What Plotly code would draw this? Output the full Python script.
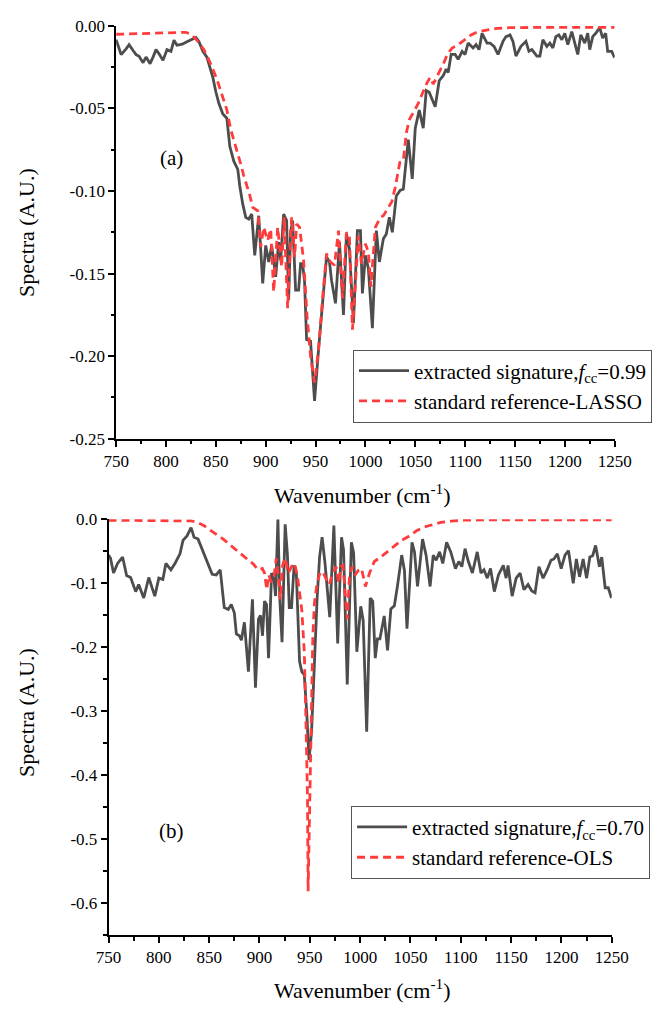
import plotly.graph_objects as go

# ---------------- Panel (a) ----------------
a_sig_x = [750, 755, 760, 763, 767, 770, 773, 777, 780, 784, 787, 790, 793, 797, 801, 805, 808, 811, 814, 817,
           820, 822, 826, 830, 833, 837, 841, 844, 847, 850, 853, 857, 861, 864, 868, 872, 874, 877, 880, 883,
           886, 889, 893, 897, 900, 903, 906, 910, 913, 915, 918, 921, 923, 925, 927, 930, 933, 935, 937, 939,
           941, 945, 949, 953, 957, 961, 964, 966, 970, 974, 978, 981, 984, 988, 992, 995, 997, 1000, 1003, 1007,
           1011, 1014, 1018, 1021, 1024, 1027, 1031, 1035, 1038, 1041, 1043, 1047, 1050, 1054, 1058, 1061, 1064,
           1070, 1074, 1078, 1081, 1083, 1086, 1090, 1093, 1097, 1100, 1103, 1108, 1111, 1114, 1117, 1122, 1125,
           1129, 1133, 1138, 1141, 1145, 1148, 1151, 1156, 1161, 1164, 1167, 1172, 1175, 1178, 1182, 1185, 1188,
           1191, 1194, 1197, 1200, 1203, 1207, 1210, 1213, 1216, 1220, 1223, 1225, 1228, 1231, 1235, 1238, 1241,
           1243, 1247, 1250]
a_sig_y = [-0.0085, -0.0175, -0.014, -0.0115, -0.015, -0.0175, -0.0185, -0.0224, -0.019, -0.023, -0.019, -0.0145,
           -0.017, -0.021, -0.0145, -0.0155, -0.0088, -0.0118, -0.0115, -0.011, -0.010, -0.0095, -0.0085, -0.0072,
           -0.0095, -0.0155, -0.019, -0.025, -0.0313, -0.040, -0.047, -0.0535, -0.056, -0.073, -0.082, -0.087,
           -0.097, -0.108, -0.116, -0.117, -0.114, -0.139, -0.115, -0.156, -0.133, -0.143, -0.133, -0.152, -0.131,
           -0.142, -0.114, -0.118, -0.166, -0.125, -0.118, -0.160, -0.160, -0.144, -0.144, -0.155, -0.190, -0.191,
           -0.227, -0.196, -0.170, -0.140, -0.143, -0.154, -0.168, -0.131, -0.175, -0.126, -0.135, -0.180, -0.124,
           -0.124, -0.162, -0.139, -0.147, -0.183, -0.124, -0.143, -0.129, -0.126, -0.116, -0.125, -0.103, -0.0996,
           -0.099, -0.0788, -0.0689, -0.0927, -0.062, -0.0511, -0.062, -0.0392, -0.0402, -0.0491, -0.0333, -0.0303,
           -0.0263, -0.0283, -0.0174, -0.0174, -0.0204, -0.0155, -0.0174, -0.0105, -0.0135, -0.0115, -0.0145,
           -0.0046, -0.0105, -0.0105, -0.0125, -0.0174, -0.0095, -0.0066, -0.0056, -0.0095, -0.0184, -0.0125,
           -0.0095, -0.0155, -0.0145, -0.0184, -0.0184, -0.0085, -0.0125, -0.0105, -0.0135, -0.0066, -0.0056,
           -0.0085, -0.0046, -0.0115, -0.0036, -0.0105, -0.0174, -0.0056, -0.0105, -0.0046, -0.0145, -0.0066,
           -0.0046, -0.0012, -0.0075, -0.0046, -0.0155, -0.0155, -0.0194]

a_ref_x = [750, 760, 770, 780, 790, 800, 810, 820, 826, 832, 838, 844, 851, 856, 861, 865, 870, 875, 878, 881,
           884, 887, 890, 892, 895, 898, 902, 905, 908, 912, 916, 918.5, 922, 926, 929, 931, 934, 938, 941.5, 945,
           949, 953, 957.5, 961, 965, 969, 973, 977, 981, 984, 987, 993, 996, 1000, 1003, 1005.5, 1010, 1015, 1018,
           1023, 1026.5, 1030, 1034.5, 1038, 1041, 1044, 1049, 1053, 1057, 1062, 1065, 1068, 1073, 1078, 1082,
           1087, 1093, 1100, 1106, 1113, 1122, 1132, 1145, 1160, 1180, 1200, 1220, 1250]
a_ref_y = [-0.0052, -0.0050, -0.0048, -0.0045, -0.0042, -0.0040, -0.0038, -0.0040, -0.0056, -0.0095, -0.0145,
           -0.022, -0.0323, -0.0422, -0.0508, -0.063, -0.0728, -0.0838, -0.0907, -0.0966, -0.1025, -0.110, -0.111,
           -0.112, -0.134, -0.122, -0.130, -0.123, -0.161, -0.122, -0.146, -0.116, -0.171, -0.116, -0.140, -0.120,
           -0.122, -0.142, -0.176, -0.200, -0.216, -0.196, -0.162, -0.138, -0.143, -0.145, -0.124, -0.165, -0.125,
           -0.128, -0.184, -0.127, -0.144, -0.132, -0.137, -0.158, -0.122, -0.116, -0.115, -0.110, -0.1065, -0.0976,
           -0.0828, -0.082, -0.065, -0.057, -0.0511, -0.0471, -0.0412, -0.0343, -0.0313, -0.0353, -0.0293, -0.0234,
           -0.0175, -0.0135, -0.0115, -0.0085, -0.0056, -0.0036, -0.0026, -0.0016, -0.0012, -0.0010, -0.0010,
           -0.0010, -0.0010, -0.0010]

# ---------------- Panel (b) ----------------
b_sig_x = [750, 752, 755, 759, 764, 768, 772, 777, 780, 785, 790, 796, 800, 804, 807, 812, 816, 821, 824, 828,
           832, 835, 839, 843, 848, 853, 857, 861, 865, 869, 872, 875, 877, 880, 882, 885, 889, 893, 896, 899,
           901, 903, 905, 907, 909, 912, 914.5, 916, 918.3, 920.2, 922.4, 925.5, 927.7, 929.6, 931.8, 934.4, 936.6,
           939.8, 942, 944.5, 947, 949.2, 951.8, 954, 957.2, 959.7, 962.2, 965.1, 967.3, 969.8, 973.9, 977.7,
           981.5, 983.5, 987.2, 991.3, 993.5, 996.7, 1000.6, 1003, 1006.5, 1010, 1012.5, 1015, 1017.2, 1019.6,
           1023.9, 1027.2, 1030.5, 1034, 1037, 1041.3, 1044, 1046.5, 1051.5, 1054, 1057, 1062, 1065.5, 1069.5, 1072.6,
           1075.5, 1078.9, 1082.1, 1085.9, 1090, 1094.7, 1098, 1101, 1104.2, 1107.5, 1111.5, 1116.3, 1120, 1123,
           1126.3, 1129.5, 1133.3, 1137.4, 1142.2, 1145, 1146.9, 1151, 1155, 1158.9, 1162.7, 1166.8, 1170.5, 1173.8,
           1177.6, 1181.7, 1185.5, 1189.6, 1192.5, 1195.9, 1199.7, 1203.5, 1207, 1211.7, 1214.8, 1218, 1221.5, 1225,
           1228.2, 1231, 1233.9, 1237.7, 1240, 1243.4, 1246.5, 1249.7]
b_sig_y = [-0.056, -0.061, -0.084, -0.069, -0.059, -0.088, -0.091, -0.113, -0.102, -0.123, -0.091, -0.120, -0.092,
           -0.094, -0.069, -0.079, -0.069, -0.054, -0.033, -0.026, -0.013, -0.028, -0.031, -0.046, -0.066, -0.086,
           -0.087, -0.079, -0.138, -0.141, -0.133, -0.146, -0.179, -0.182, -0.189, -0.161, -0.238, -0.125, -0.263,
           -0.156, -0.150, -0.182, -0.128, -0.133, -0.217, -0.084, -0.095, -0.120, 0.0, -0.125, -0.192, -0.008, -0.054,
           -0.138, -0.138, -0.072, -0.084, -0.222, -0.238, -0.243, -0.304, -0.376, -0.330, -0.233, -0.125, -0.059,
           -0.028, -0.069, -0.115, -0.153, -0.010, -0.194, -0.028, -0.048, -0.258, -0.036, -0.052, -0.207, -0.136,
           -0.158, -0.332, -0.123, -0.128, -0.217, -0.187, -0.187, -0.151, -0.205, -0.140, -0.135, -0.105, -0.056,
           -0.080, -0.171, -0.036, -0.051, -0.105, -0.031, -0.056, -0.105, -0.056, -0.064, -0.051, -0.069, -0.036,
           -0.051, -0.077, -0.066, -0.074, -0.046, -0.066, -0.084, -0.051, -0.084, -0.079, -0.092, -0.077, -0.113,
           -0.087, -0.072, -0.092, -0.072, -0.120, -0.092, -0.084, -0.110, -0.102, -0.112, -0.115, -0.074, -0.092,
           -0.080, -0.064, -0.062, -0.054, -0.077, -0.056, -0.049, -0.100, -0.062, -0.090, -0.062, -0.092, -0.059,
           -0.057, -0.041, -0.074, -0.059, -0.107, -0.107, -0.123]

b_ref_x = [750, 760, 770, 780, 790, 800, 810, 820, 826, 832, 838.5, 845, 851, 857.5, 864, 870, 876.5, 882.8,
           887.6, 893.9, 898.6, 902.8, 905, 907.2, 909.1, 911.3, 914, 916.7, 919.2, 920.8, 923, 925.5, 928.7, 931.8,
           935, 938.2, 942, 944.5, 946.1, 947.7, 948.3, 949.9, 951.5, 953, 954.6, 957.2, 960.3, 963.5, 966.6,
           969.2, 973, 976.1, 978.7, 980.9, 983, 985.6, 987.2, 989.4, 991.9, 995.1, 998, 1001.4, 1005.2, 1009.3,
           1014.1, 1020.4, 1026.7, 1033, 1041, 1048, 1056, 1064, 1072, 1080, 1090, 1100, 1120, 1150, 1200, 1250]
b_ref_y = [-0.0015, -0.0015, -0.0015, -0.0015, -0.0015, -0.0015, -0.0015, -0.0015, -0.002, -0.0026, -0.005,
           -0.010, -0.017, -0.024, -0.031, -0.039, -0.047, -0.055, -0.062, -0.070, -0.079, -0.077, -0.084, -0.110,
           -0.087, -0.097, -0.095, -0.061, -0.100, -0.125, -0.072, -0.061, -0.084, -0.074, -0.069, -0.095, -0.141,
           -0.207, -0.309, -0.437, -0.581, -0.437, -0.284, -0.182, -0.130, -0.100, -0.082, -0.084, -0.095, -0.102,
           -0.084, -0.074, -0.100, -0.074, -0.072, -0.130, -0.156, -0.090, -0.074, -0.087, -0.080, -0.077, -0.105,
           -0.084, -0.066, -0.059, -0.051, -0.044, -0.033, -0.027, -0.018, -0.012, -0.008, -0.005, -0.003, -0.0015,
           -0.001, -0.001, -0.001, -0.001]

x_ticks = [750, 800, 850, 900, 950, 1000, 1050, 1100, 1150, 1200, 1250]
x_tick_text = ["750", "800", "850", "900", "950", "1000", "1050", "1100", "1150", "1200", "1250"]
a_y_ticks = [0.0, -0.05, -0.10, -0.15, -0.20, -0.25]
a_y_text = ["0.00", "-0.05", "-0.10", "-0.15", "-0.20", "-0.25"]
b_y_ticks = [0.0, -0.1, -0.2, -0.3, -0.4, -0.5, -0.6]
b_y_text = ["0.0", "-0.1", "-0.2", "-0.3", "-0.4", "-0.5", "-0.6"]

names_a = ["extracted signature,<i>f</i><sub>cc</sub>=0.99", "standard reference-LASSO"]
names_b = ["extracted signature,<i>f</i><sub>cc</sub>=0.70", "standard reference-OLS"]

FONT = "Liberation Serif, Times New Roman, serif"
GREY = "#4d4d4d"
RED = "#ff3b3b"
W, H = 667, 1015

fig = go.Figure()
fig.add_trace(go.Scatter(x=a_sig_x, y=a_sig_y, mode="lines", name=names_a[0],
                         line=dict(color=GREY, width=2.8), xaxis="x", yaxis="y", legend="legend"))
fig.add_trace(go.Scatter(x=a_ref_x, y=a_ref_y, mode="lines", name=names_a[1],
                         line=dict(color=RED, width=2.8, dash="8px,5px"), xaxis="x", yaxis="y", legend="legend"))
fig.add_trace(go.Scatter(x=b_sig_x, y=b_sig_y, mode="lines", name=names_b[0],
                         line=dict(color=GREY, width=2.8), xaxis="x2", yaxis="y2", legend="legend2"))
fig.add_trace(go.Scatter(x=b_ref_x, y=b_ref_y, mode="lines", name=names_b[1],
                         line=dict(color=RED, width=2.8, dash="8px,5px"), xaxis="x2", yaxis="y2", legend="legend2"))

def xa(domain, anchor):
    return dict(domain=domain, anchor=anchor, range=[750, 1250], showgrid=False, zeroline=False,
                showline=True, linecolor="black", linewidth=1.5, mirror=False,
                ticks="outside", ticklen=6, tickwidth=1.5, tickcolor="black",
                tickvals=x_ticks, ticktext=x_tick_text,
                minor=dict(ticks="outside", ticklen=3.5, tickwidth=1.5, tickcolor="black", dtick=25, tick0=750),
                tickfont=dict(family=FONT, size=17, color="black"))

def ya(domain, anchor, rng, tv, tt, mdt):
    return dict(domain=domain, anchor=anchor, range=rng, showgrid=False, zeroline=False,
                showline=True, linecolor="black", linewidth=1.5, mirror=False,
                ticks="outside", ticklen=6, tickwidth=1.5, tickcolor="black",
                tickvals=tv, ticktext=tt,
                minor=dict(ticks="outside", ticklen=3.5, tickwidth=1.5, tickcolor="black", dtick=mdt, tick0=0),
                tickfont=dict(family=FONT, size=17, color="black"))

fig.update_layout(
    width=W, height=H, margin=dict(l=0, r=0, t=0, b=0),
    paper_bgcolor="white", plot_bgcolor="white",
    font=dict(family=FONT, color="black"),
    xaxis=xa([108 / W, 630 / W], "y"),
    yaxis=ya([1 - 438 / H, 1 - 17 / H], "x", [-0.25, 0.0], a_y_ticks, a_y_text, 0.025),
    xaxis2=xa([100 / W, 627 / W], "y2"),
    yaxis2=ya([1 - 944 / H, 1 - 520 / H], "x2", [-0.65, 0.0], b_y_ticks, b_y_text, 0.05),
    legend=dict(x=356 / W, y=1 - 347 / H, xanchor="left", yanchor="top",
                bordercolor="#555555", borderwidth=1, bgcolor="white",
                font=dict(family=FONT, size=21, color="black"), tracegroupgap=0, itemwidth=50),
    legend2=dict(x=354 / W, y=1 - 812 / H, xanchor="left", yanchor="top",
                 bordercolor="#555555", borderwidth=1, bgcolor="white",
                 font=dict(family=FONT, size=21, color="black"), tracegroupgap=0, itemwidth=50),
    showlegend=True,
)

ann = [
    dict(text="(a)", x=166 / W, y=1 - 152 / H, size=21),
    dict(text="(b)", x=166 / W, y=1 - 838 / H, size=21),
    dict(text="Wavenumber (cm<sup>-1</sup>)", x=366 / W, y=1 - 494 / H, size=22),
    dict(text="Wavenumber (cm<sup>-1</sup>)", x=366 / W, y=1 - 999 / H, size=22),
    dict(text="Spectra (A.U.)", x=14 / W, y=1 - 228 / H, textangle=-90, size=22),
    dict(text="Spectra (A.U.)", x=14 / W, y=1 - 717 / H, textangle=-90, size=22),
]
for a in ann:
    size = a.pop("size")
    fig.add_annotation(xref="paper", yref="paper", showarrow=False, xanchor="center", yanchor="middle",
                       font=dict(family=FONT, size=size, color="black"), **a)

fig.write_html("out.html")
